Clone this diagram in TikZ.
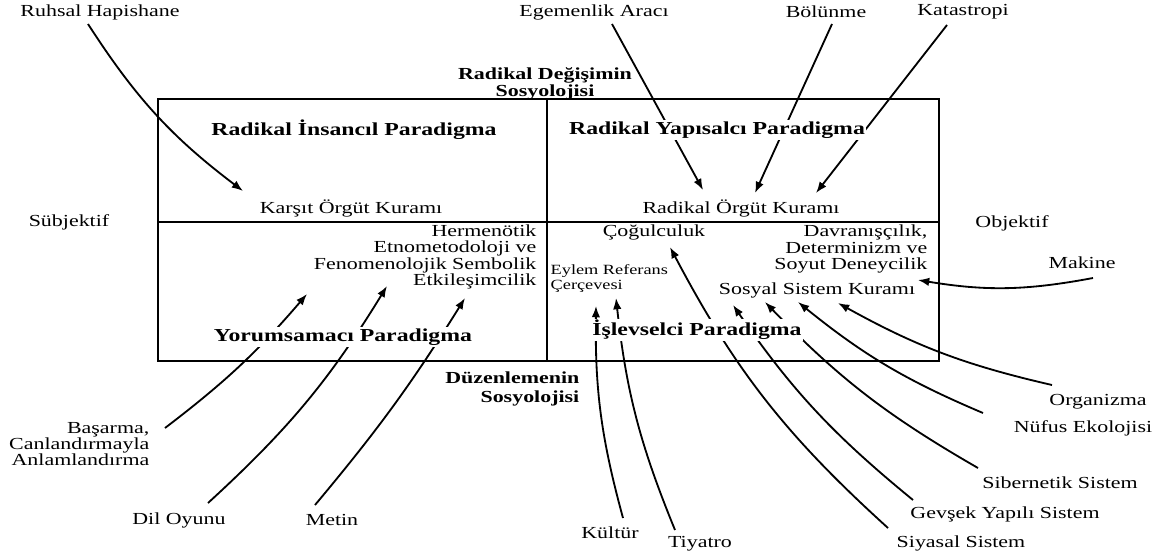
\documentclass[tikz,border=0pt]{standalone}
\usepackage{fontspec}
\setmainfont[FakeStretch=1.3]{Liberation Serif}
\usepackage{tikz}
\usetikzlibrary{arrows.meta,calc,backgrounds}

\tikzset{
    lbl/.style={font=\fontsize{12}{11.8}\selectfont, inner sep=1pt},
    paradigm/.style={font=\fontsize{13}{13}\selectfont\bfseries, fill=white, inner sep=1pt},
    pole/.style={font=\fontsize{12}{10.5}\selectfont\bfseries, inner sep=1pt},
    link/.style={line width=1.3pt, -{Latex[length=8pt,width=6pt]}},
}

\begin{document}
\begin{tikzpicture}[x=0.025cm, y=0.025cm]
    \useasboundingbox (0,0) rectangle (1161,-559);

    \node[lbl] (ruhsal) at (100,-12) {Ruhsal Hapishane};
    \node[lbl] (egemen) at (594,-12) {Egemenlik Aracı};
    \node[lbl] (bolunme) at (826,-12) {Bölünme};
    \node[lbl] (katas) at (963,-12) {Katastropi};
    \node[pole, align=center] (radikal) at (545,-84) {Radikal Değişimin\\Sosyolojisi};
    \node[paradigm] (rinsan) at (354,-130) {Radikal İnsancıl Paradigma};
    \node[paradigm] (ryapi) at (717,-130) {Radikal Yapısalcı Paradigma};
    \node[lbl] (karsit) at (351,-208) {Karşıt Örgüt Kuramı};
    \node[lbl] (radorg) at (741,-208) {Radikal Örgüt Kuramı};
    \node[lbl] (subj) at (69,-222) {Sübjektif};
    \node[lbl] (obj) at (1012,-223) {Objektif};
    \node[lbl, align=right, anchor=east] (herm) at (538,-257) {Hermenötik\\Etnometodoloji ve\\Fenomenolojik Sembolik\\Etkileşimcilik};
    \node[paradigm] (yorum) at (343,-337) {Yorumsamacı Paradigma};
    \node[lbl] (cogul) at (654,-232) {Çoğulculuk};
    \node[lbl, align=right, anchor=east] (davran) at (929,-249) {Davranışçılık,\\Determinizm ve\\Soyut Deneycilik};
    \node[lbl, align=left, anchor=west, font=\fontsize{10}{10.7}\selectfont] (eylem) at (549,-279) {Eylem Referans\\Çerçevesi};
    \node[lbl] (sosyal) at (817,-290) {Sosyal Sistem Kuramı};
    \node[paradigm] (islev) at (697,-330) {İşlevselci Paradigma};
    \node[pole, align=right, anchor=east, font=\fontsize{12}{13.5}\selectfont\bfseries] (duzen) at (581,-389) {Düzenlemenin\\Sosyolojisi};
    \node[lbl] (makine) at (1082,-263) {Makine};
    \node[lbl] (organizma) at (1098,-402) {Organizma};
    \node[lbl] (nufus) at (1083,-428) {Nüfus Ekolojisi};
    \node[lbl] (siber) at (1060,-483) {Sibernetik Sistem};
    \node[lbl] (gevsek) at (1005,-514) {Gevşek Yapılı Sistem};
    \node[lbl] (siyasal) at (961,-543) {Siyasal Sistem};
    \node[lbl] (tiyatro) at (700,-544) {Tiyatro};
    \node[lbl] (kultur) at (610,-533) {Kültür};
    \node[lbl] (metin) at (332,-520) {Metin};
    \node[lbl] (dil) at (179,-520) {Dil Oyunu};
    \node[lbl, align=right, anchor=east, font=\fontsize{12}{11.4}\selectfont] (basarma) at (151,-444) {Başarma,\\Canlandırmayla\\Anlamlandırma};

    \draw[line width=1.6pt] (158,-99) rectangle (939,-361);
    \draw[line width=1.6pt] (547,-99) -- (547,-361) (158,-222) -- (939,-222);

    \begin{scope}[on background layer]
        \draw[link] ($(ruhsal)+(-12,-12)$) to[bend right=10] ($(karsit)+(-108,17)$);
        \draw[link] ($(egemen)+(18,-12)$) -- ($(radorg)+(-38,18)$);
        \draw[link] ($(bolunme)+(6,-12)$) -- ($(radorg)+(14,15)$);
        \draw[link] ($(katas)+(-16,-13)$) -- ($(radorg)+(75,15)$);
        \draw[link] ($(makine)+(11,-15)$) to[bend left=10] ($(sosyal)+(101,10)$);
        \draw[link] ($(organizma)+(-46,17)$) to[bend left=8] ($(sosyal)+(21,-13)$);
        \draw[link] ($(nufus)+(-100,15)$) to[bend left=8] ($(sosyal)+(-19,-12)$);
        \draw[link] ($(siber)+(-82,15)$) to[bend left=8] ($(sosyal)+(-52,-12)$);
        \draw[link] ($(gevsek)+(-92,14)$) to[bend left=8] ($(sosyal)+(-84,-15)$);
        \draw[link] ($(siyasal)+(-73,15)$) to[bend left=10] ($(cogul)+(16,-15)$);
        \draw[link] ($(kultur)+(13,15)$) to[bend left=8] ($(eylem.west)+(47,-27)$);
        \draw[link] ($(tiyatro)+(-25,14)$) to[bend left=8] ($(eylem.west)+(67,-19)$);
        \draw[link] ($(basarma.east)+(14,16)$) to[bend right=6] ($(herm.east)+(-231,-37)$);
        \draw[link] ($(dil)+(29,17)$) to[bend right=8] ($(herm.east)+(-151,-29)$);
        \draw[link] ($(metin)+(-17,15)$) to[bend right=4] ($(herm.east)+(-73,-41)$);
    \end{scope}
\end{tikzpicture}
\end{document}
